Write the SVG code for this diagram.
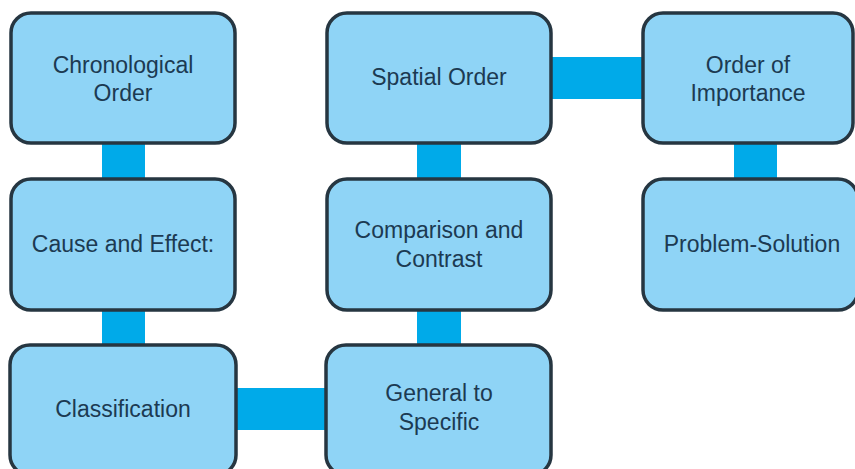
<svg xmlns="http://www.w3.org/2000/svg" width="855" height="469" viewBox="0 0 855 469">
<style>
.node{fill:#8fd4f6;stroke:#263641;stroke-width:3.5}
.bar{fill:#00aae9}
text{font-family:"Liberation Sans",Arial,sans-serif;font-size:23px;fill:#1c3a52;text-anchor:middle}
</style>
<rect width="855" height="469" fill="#ffffff"/>
<g id="connectors">
<rect class="bar" x="102" y="140" width="43" height="40"/>
<rect class="bar" x="102" y="307" width="43" height="40"/>
<rect class="bar" x="233" y="388" width="95" height="42"/>
<rect class="bar" x="417" y="307" width="44" height="40"/>
<rect class="bar" x="417" y="140" width="44" height="40"/>
<rect class="bar" x="550" y="57" width="95" height="42"/>
<rect class="bar" x="734" y="140" width="43" height="40"/>
</g>
<g id="chronological">
<rect class="node" x="11" y="13" width="224" height="130" rx="20"/>
<text x="123" y="73">Chronological</text>
<text x="123" y="101">Order</text>
</g>
<g id="cause">
<rect class="node" x="11" y="179" width="224" height="131" rx="20"/>
<text x="123" y="252">Cause and Effect:</text>
</g>
<g id="classification">
<rect class="node" x="10" y="345" width="226" height="130" rx="20"/>
<text x="123" y="417">Classification</text>
</g>
<g id="spatial">
<rect class="node" x="327" y="13" width="224" height="130" rx="20"/>
<text x="439" y="85">Spatial Order</text>
</g>
<g id="comparison">
<rect class="node" x="327" y="179" width="224" height="131" rx="20"/>
<text x="439" y="238">Comparison and</text>
<text x="439" y="267">Contrast</text>
</g>
<g id="general">
<rect class="node" x="326" y="345" width="225" height="130" rx="20"/>
<text x="439" y="401">General to</text>
<text x="439" y="430">Specific</text>
</g>
<g id="importance">
<rect class="node" x="643" y="13" width="210" height="130" rx="20"/>
<text x="748" y="73">Order of</text>
<text x="748" y="101">Importance</text>
</g>
<g id="problem">
<rect class="node" x="643" y="179" width="215" height="131" rx="20"/>
<text x="752" y="252">Problem-Solution</text>
</g>
</svg>
